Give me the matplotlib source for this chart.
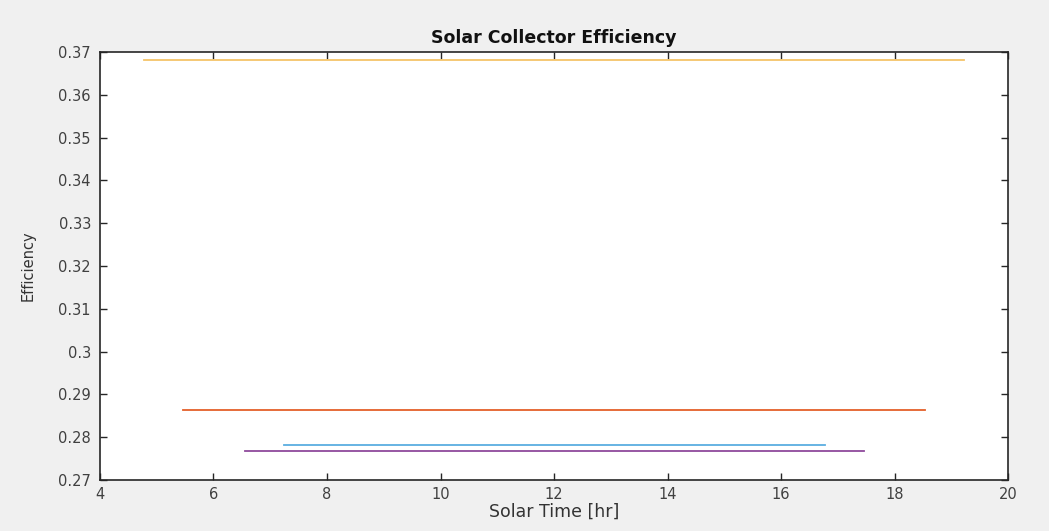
import matplotlib.pyplot as plt

# collector runs: start/end solar time [hr] and the (constant) efficiency
t_start = [7.24, 5.47, 4.78, 6.56]
t_end = [16.78, 18.53, 19.23, 17.46]
efficiency = [0.2782, 0.2863, 0.3682, 0.2767]
colors = ['#5aaee0', '#e4602a', '#f5c469', '#8f4a9c']

xticks = [4, 6, 8, 10, 12, 14, 16, 18, 20]
yticks = [0.27, 0.28, 0.29, 0.30, 0.31, 0.32, 0.33, 0.34, 0.35, 0.36, 0.37]
ylabels = ['0.27', '0.28', '0.29', '0.3', '0.31', '0.32', '0.33', '0.34',
           '0.35', '0.36', '0.37']

plt.rcParams['font.family'] = ['DejaVu Sans']

fig = plt.figure(figsize=(10.49, 5.31), dpi=100, facecolor='#f0f0f0')
ax = fig.add_axes([0.0953, 0.096, 0.8657, 0.806])

for t0, t1, eff, c in zip(t_start, t_end, efficiency, colors):
    ax.plot([t0, t1], [eff, eff], color=c, linewidth=1.3)

ax.set_xlim(4, 20)
ax.set_ylim(0.27, 0.37)
ax.set_xticks(xticks)
ax.set_yticks(yticks)
ax.set_yticklabels(ylabels)
ax.tick_params(direction='in', top=True, right=True, length=5, width=1,
               color='#262626', labelcolor='#404040', labelsize=10.5)
ax.tick_params(axis='y', pad=6.5)
ax.tick_params(axis='x', pad=5)
for s in ax.spines.values():
    s.set_color('#262626')
    s.set_linewidth(1.2)

ax.set_title('Solar Collector Efficiency', fontsize=12.5, fontweight='bold',
             color='#111111', pad=6.5)
ax.set_xlabel('Solar Time [hr]', fontsize=12.5, color='#333333')
ax.set_ylabel('Efficiency', fontsize=10.5, color='#333333')
ax.xaxis.set_label_coords(0.5, -0.052)
ax.yaxis.set_label_coords(-0.071, 0.5)

fig.savefig('out.png', dpi=100, facecolor=fig.get_facecolor())
